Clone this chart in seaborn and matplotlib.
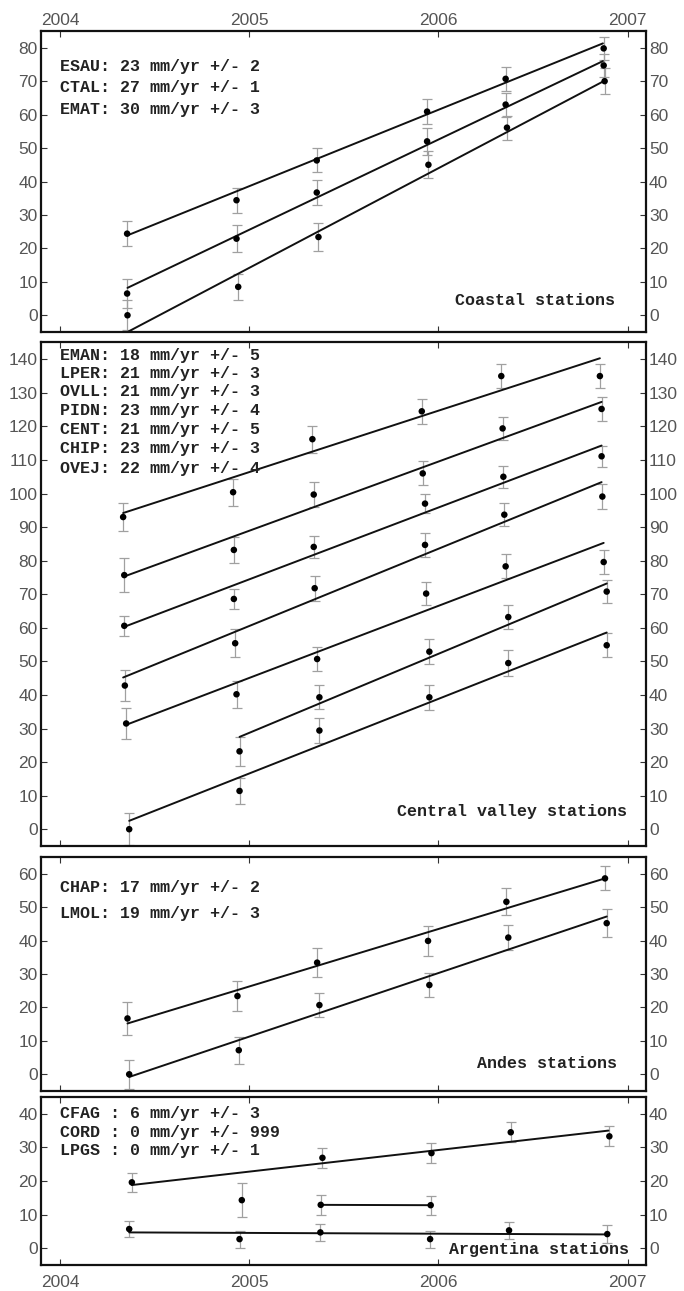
import matplotlib
matplotlib.use('Agg')
import matplotlib.pyplot as plt
import seaborn as sns
import pandas as pd
import numpy as np

# --- Coastal stations ---
coastal_names = ['ESAU', 'CTAL', 'EMAT']
coastal_t = [
    [2004.355, 2004.933, 2005.357, 2005.940, 2006.355, 2006.873],
    [2004.355, 2004.933, 2005.357, 2005.940, 2006.355, 2006.873],
    [2004.357, 2004.942, 2005.366, 2005.947, 2006.362, 2006.878],
]
coastal_y = [
    [24.4, 34.4, 46.3, 60.9, 70.7, 79.8],
    [6.5, 22.9, 36.7, 52.0, 63.0, 74.7],
    [0.0, 8.5, 23.4, 45.0, 56.1, 70.0],
]
coastal_err = [
    [3.7, 3.8, 3.6, 3.7, 3.6, 3.4],
    [4.4, 4.0, 3.6, 4.0, 3.6, 3.5],
    [4.5, 3.9, 4.2, 4.0, 3.6, 3.8],
]
coastal_fit_t = [[2004.357, 2006.869], [2004.357, 2006.869], [2004.357, 2006.873]]
coastal_fit_y = [[23.9, 81.3], [8.2, 76.0], [-5.0, 70.0]]
coastal_labels = ['ESAU: 23 mm/yr +/- 2', 'CTAL: 27 mm/yr +/- 1', 'EMAT: 30 mm/yr +/- 3']

# --- Central valley stations ---
central_names = ['EMAN', 'LPER', 'OVLL', 'PIDN', 'CENT', 'CHIP', 'OVEJ']
central_t = [
    [2004.334, 2004.915, 2005.334, 2005.912, 2006.332, 2006.853],
    [2004.340, 2004.919, 2005.341, 2005.917, 2006.339, 2006.862],
    [2004.340, 2004.919, 2005.341, 2005.929, 2006.343, 2006.862],
    [2004.343, 2004.926, 2005.346, 2005.929, 2006.348, 2006.866],
    [2004.350, 2004.933, 2005.359, 2005.935, 2006.355, 2006.873],
    [2004.949, 2005.371, 2005.952, 2006.369, 2006.889],
    [2004.366, 2004.949, 2005.371, 2005.952, 2006.369, 2006.889],
]
central_y = [
    [93.0, 100.4, 116.2, 124.5, 135.0, 135.0],
    [75.7, 83.2, 99.7, 106.0, 119.4, 125.2],
    [60.6, 68.6, 84.1, 97.0, 105.0, 111.1],
    [42.8, 55.4, 71.8, 84.7, 93.7, 99.1],
    [31.5, 40.2, 50.7, 70.2, 78.3, 79.6],
    [23.2, 39.3, 52.9, 63.2, 70.8],
    [0.0, 11.4, 29.4, 39.3, 49.5, 54.8],
]
central_err = [
    [4.2, 4.0, 4.0, 3.8, 3.5, 3.7],
    [5.0, 4.0, 3.6, 3.6, 3.5, 3.6],
    [3.0, 3.1, 3.3, 2.8, 3.2, 3.2],
    [4.7, 4.2, 3.7, 3.6, 3.5, 3.7],
    [4.5, 4.0, 3.5, 3.5, 3.6, 3.5],
    [4.4, 3.6, 3.7, 3.6, 3.5],
    [4.8, 4.0, 3.7, 3.7, 3.8, 3.6],
]
central_fit_t = [
    [2004.334, 2006.853], [2004.340, 2006.862], [2004.340, 2006.862],
    [2004.334, 2006.862], [2004.350, 2006.873], [2004.949, 2006.889],
    [2004.366, 2006.889],
]
central_fit_y = [[94.2, 140.3], [75.3, 127.3], [60.3, 114.3], [45.2, 103.4],
                 [31.1, 85.3], [27.5, 73.2], [2.5, 58.6]]
central_labels = ['EMAN: 18 mm/yr +/- 5', 'LPER: 21 mm/yr +/- 3', 'OVLL: 21 mm/yr +/- 3',
                  'PIDN: 23 mm/yr +/- 4', 'CENT: 21 mm/yr +/- 5', 'CHIP: 23 mm/yr +/- 3',
                  'OVEJ: 22 mm/yr +/- 4']

# --- Andes stations ---
andes_names = ['CHAP', 'LMOL']
andes_t = [
    [2004.357, 2004.938, 2005.359, 2005.945, 2006.359, 2006.880],
    [2004.366, 2004.945, 2005.371, 2005.952, 2006.369, 2006.889],
]
andes_y = [
    [16.7, 23.4, 33.4, 39.9, 51.6, 58.6],
    [0.0, 7.2, 20.7, 26.7, 40.9, 45.2],
]
andes_err = [
    [4.8, 4.5, 4.3, 4.5, 4.0, 3.6],
    [4.3, 4.0, 3.5, 3.7, 3.7, 4.2],
]
andes_fit_t = [[2004.357, 2006.880], [2004.366, 2006.889]]
andes_fit_y = [[15.2, 58.6], [-0.8, 47.2]]
andes_labels = ['CHAP: 17 mm/yr +/- 2', 'LMOL: 19 mm/yr +/- 3']

# --- Argentina stations ---
argentina_names = ['CFAG', 'CORD', 'LPGS']
argentina_t = [
    [2004.380, 2005.387, 2005.963, 2006.382, 2006.903],
    [2004.961, 2005.378, 2005.959],
    [2004.366, 2004.949, 2005.376, 2005.956, 2006.373, 2006.892],
]
argentina_y = [
    [19.6, 26.9, 28.3, 34.5, 33.3],
    [14.3, 12.9, 12.8],
    [5.7, 2.7, 4.7, 2.7, 5.3, 4.2],
]
argentina_err = [
    [2.8, 2.9, 3.0, 3.0, 3.0],
    [5.0, 2.9, 2.8],
    [2.4, 2.5, 2.5, 2.5, 2.5, 2.6],
]
argentina_fit_t = [[2004.380, 2006.898], [2005.378, 2005.959], [2004.366, 2006.892]]
argentina_fit_y = [[18.8, 35.0], [12.9, 12.8], [4.7, 4.1]]
argentina_labels = ['CFAG : 6 mm/yr +/- 3', 'CORD : 0 mm/yr +/- 999', 'LPGS : 0 mm/yr +/- 1']

panel_titles = ['Coastal stations', 'Central valley stations', 'Andes stations', 'Argentina stations']
year_ticks = [2004, 2005, 2006, 2007]


def to_frames(names, t, y, err, fit_t, fit_y):
    pts = pd.DataFrame([
        {'station': n, 't': ti, 'y': yi, 'err': ei}
        for n, ts, ys, es in zip(names, t, y, err)
        for ti, yi, ei in zip(ts, ys, es)])
    fit = pd.DataFrame([
        {'station': n, 't': ti, 'y': yi}
        for n, ts, ys in zip(names, fit_t, fit_y)
        for ti, yi in zip(ts, ys)])
    return pts, fit


sns.set_theme(style='ticks')
plt.rcParams['font.family'] = ['Liberation Sans Narrow', 'Liberation Sans', 'DejaVu Sans']

fig = plt.figure(figsize=(6.84, 12.91), dpi=100)
W = 1291.0
left, width = 41 / 684, 604.5 / 684
rects = [(31, 332), (342.5, 846), (857, 1091), (1097, 1265)]
ylims = [(-5, 85), (-5, 145), (-5, 65), (-5, 45)]
ytops = [80, 140, 60, 40]

panels = [
    (coastal_names, coastal_t, coastal_y, coastal_err, coastal_fit_t, coastal_fit_y, coastal_labels),
    (central_names, central_t, central_y, central_err, central_fit_t, central_fit_y, central_labels),
    (andes_names, andes_t, andes_y, andes_err, andes_fit_t, andes_fit_y, andes_labels),
    (argentina_names, argentina_t, argentina_y, argentina_err, argentina_fit_t, argentina_fit_y, argentina_labels),
]
label_y = [[74.3, 68.0, 61.6],
           [141.2, 135.8, 130.3, 124.6, 119.0, 113.3, 107.6],
           [56.0, 48.1],
           [40.0, 34.5, 29.0]]
title_pos = [(2006.932, 4.5), (2006.997, 5.4), (2006.944, 3.2), (2007.006, -0.3)]

mono = ['Liberation Mono', 'DejaVu Sans Mono']
for i, (names, t, y, err, ft, fy, labels) in enumerate(panels):
    top, bot = rects[i]
    ax = fig.add_axes([left, 1 - bot / W, width, (bot - top) / W])
    pts, fit = to_frames(names, t, y, err, ft, fy)

    ax.errorbar(pts['t'], pts['y'], yerr=pts['err'], fmt='none', ecolor='#a0a0a0',
                elinewidth=0.9, capsize=3.3, capthick=0.9, zorder=2)
    sns.lineplot(data=fit, x='t', y='y', units='station', estimator=None,
                 color='#111111', linewidth=1.4, ax=ax, zorder=3)
    sns.scatterplot(data=pts, x='t', y='y', color='black', s=22, edgecolor='none',
                    ax=ax, zorder=4)

    ax.set_xlim(2003.9, 2007.094)
    ax.set_ylim(*ylims[i])
    ax.set_xticks(year_ticks)
    ax.set_yticks(np.arange(0, ytops[i] + 1, 10))
    ax.set_xlabel('')
    ax.set_ylabel('')
    ax.tick_params(axis='both', direction='in', length=4.5, width=0.8, color='#333333',
                   labelsize=12.5, labelcolor='#555555', top=True, right=True,
                   labelleft=True, labelright=True,
                   labeltop=(i == 0), labelbottom=(i == 3))
    ax.tick_params(axis='y', pad=2.5)
    ax.xaxis.set_tick_params(which='major', pad=7.5)
    if i == 0:
        for tk in ax.xaxis.get_major_ticks():
            tk.set_pad(2.5)
    for s in ax.spines.values():
        s.set_linewidth(1.6)
        s.set_color('#111111')

    for lab, ly in zip(labels, label_y[i]):
        ax.text(2004.0, ly, lab, family=mono, fontsize=12, fontweight='bold',
                color='#222222', ha='left', va='center', zorder=5)
    tx, ty = title_pos[i]
    ax.text(tx, ty, panel_titles[i], family=mono, fontsize=12, fontweight='bold',
            color='#222222', ha='right', va='center', zorder=5)

fig.savefig('out.png', dpi=100)
